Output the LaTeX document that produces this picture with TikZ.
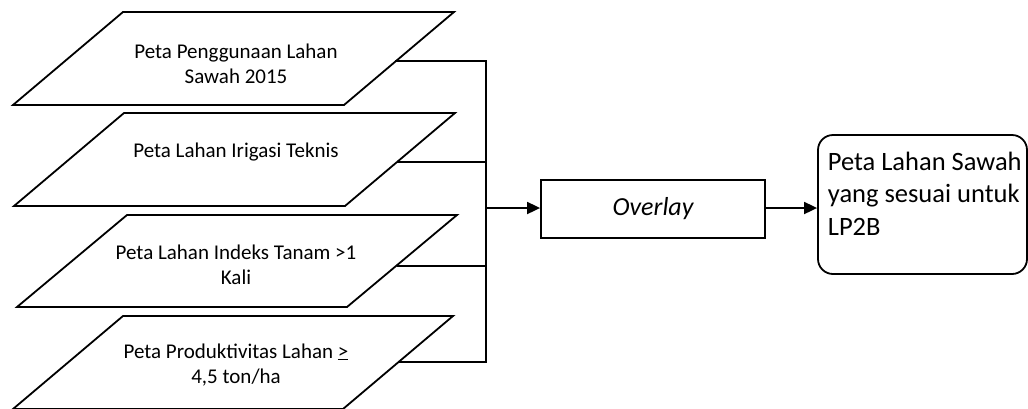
\documentclass[tikz,border=0pt]{standalone}
\usepackage{fontspec}
\setmainfont{Carlito}
\usetikzlibrary{arrows.meta}
\begin{document}
\begin{tikzpicture}[x=1pt,y=-1pt, line width=1.8pt,
  para/.style={draw, line join=miter},
  ptext/.style={align=center, font=\fontsize{21}{25.5}\selectfont, inner sep=0pt},
  arr/.style={-{Triangle[length=13pt,width=12pt]}, line width=1.8pt},
  obox/.style={draw, minimum width=224pt, minimum height=58pt, inner sep=0pt, font=\fontsize{26}{32}\selectfont\itshape},
  rbox/.style={draw, rounded corners=15pt, minimum width=209pt, minimum height=139pt, inner sep=0pt}]
\useasboundingbox (0,0) rectangle (1028,408);
\clip (0,0) rectangle (1028,408);
% parallelograms
\draw[para] (123,12) -- (454,12) -- (344,105) -- (13,105) -- cycle;
\draw[para] (124,113) -- (455,113) -- (345,206) -- (14,206) -- cycle;
\draw[para] (127,215) -- (457,215) -- (347,307) -- (17,307) -- cycle;
\draw[para] (123,316) -- (453,316) -- (343,409) -- (13,409) -- cycle;
% texts
\node[ptext] (p1) at (236,64) {Peta Penggunaan Lahan\\Sawah 2015};
\node[ptext] (p2) at (236,152) {Peta Lahan Irigasi Teknis};
\node[ptext] (p3) at (236,265) {Peta Lahan Indeks Tanam >1\\Kali};
\node[ptext] (p4) at (236,365) {Peta Produktivitas Lahan \underline{>}\\4,5 ton/ha};
% connector points
\coordinate (c1) at (395,61);
\coordinate (c2) at (397,162);
\coordinate (c3) at (397,266);
\coordinate (c4) at (399,362);
\coordinate (j1) at (486,61);
\coordinate (j2) at (486,162);
\coordinate (j3) at (486,266);
\coordinate (j4) at (486,362);
\coordinate (jm) at (486,208);
% boxes
\node[obox] (ov) at (653,209) {Overlay};
\node[rbox] (res) at (922.5,204.5) {};
\node[anchor=base west, align=left, inner sep=0pt, font=\fontsize{26.5}{32.5}\selectfont] (rt) at (827,235) {Peta Lahan Sawah\\yang sesuai untuk\\LP2B};
% connectors
\draw[line join=miter] (c1) -- (j1) -- (j4) -- (c4);
\draw (c2) -- (j2);
\draw (c3) -- (j3);
\draw[arr] (jm) -- (ov.west |- jm);
\draw[arr] (ov.east |- jm) -- (res.west |- jm);
\end{tikzpicture}
\end{document}
